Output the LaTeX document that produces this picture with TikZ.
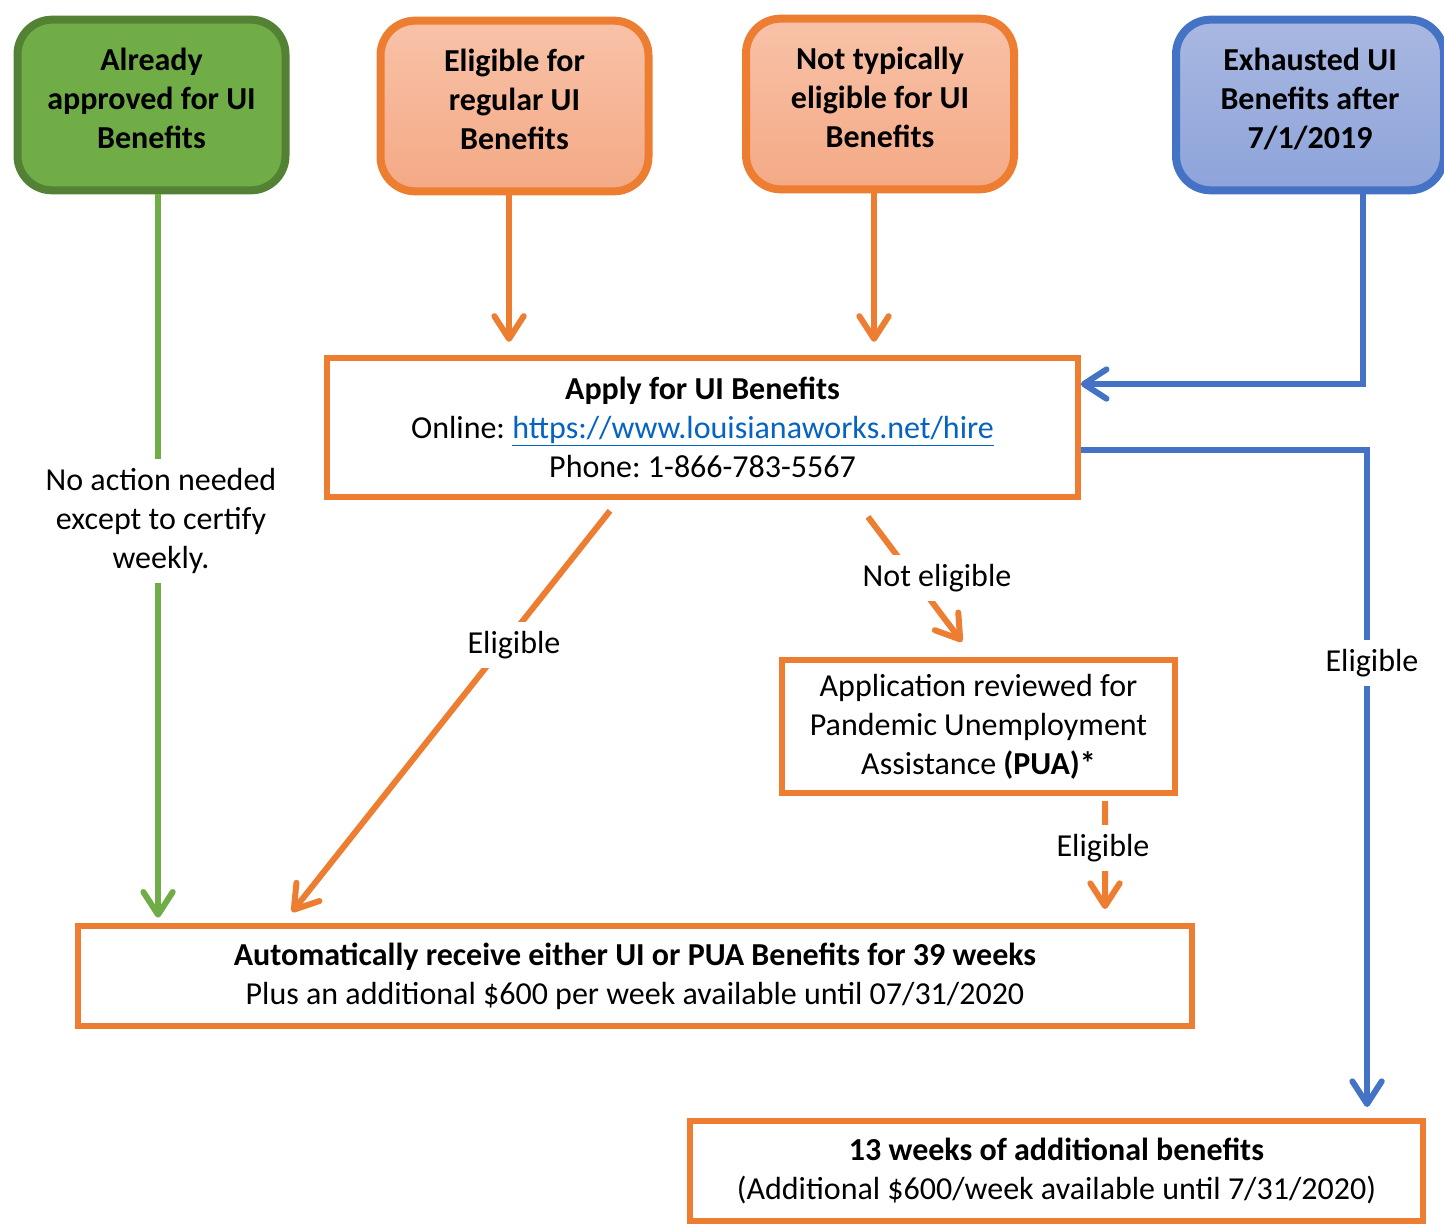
\documentclass[tikz,border=0pt]{standalone}
\usepackage{fontspec}
\setmainfont{Carlito}
\frenchspacing
\usetikzlibrary{arrows.meta}
\definecolor{uiorange}{HTML}{ED7D31}
\definecolor{uigreen}{HTML}{70AD47}
\definecolor{uidkgreen}{HTML}{548235}
\definecolor{uiblue}{HTML}{4472C4}
\definecolor{salmontop}{HTML}{F8C2A8}
\definecolor{salmonbot}{HTML}{F4A985}
\definecolor{bluetop}{HTML}{A9B8E1}
\definecolor{bluebot}{HTML}{8DA3DA}
\definecolor{uilink}{HTML}{0563C1}
\begin{document}
\begin{tikzpicture}
  [x=0.75pt,y=-0.75pt,
   every node/.style={align=center,font=\fontsize{24}{29.25}\selectfont},
   topbox/.style={rounded corners=26pt,line width=6pt,minimum width=201pt,minimum height=128pt,
     font=\fontsize{24}{29.25}\selectfont\bfseries},
   greenbox/.style={topbox,draw=uidkgreen,fill=uigreen},
   orangebox/.style={topbox,draw=uiorange,top color=salmontop,bottom color=salmonbot},
   bluebox/.style={topbox,draw=uiblue,top color=bluetop,bottom color=bluebot},
   stepbox/.style={draw=uiorange,line width=4.5pt,fill=white},
   link/.style={line width=4.5pt,-{Straight Barb[length=17pt,width=22pt,round]}},
   lbl/.style={fill=white,inner sep=7pt}]
  \useasboundingbox (0,0) rectangle (1444,1224);

  % top row, text a bit above the middle
  \node[greenbox] (already) at (151.5,105) {Already\\approved for UI\\Benefits\\[-19pt]\mbox{}};
  \node[orangebox] (regular) at (514.5,106) {Eligible for\\regular UI\\Benefits\\[-19pt]\mbox{}};
  \node[orangebox] (nottypical) at (880,104) {Not typically\\eligible for UI\\Benefits\\[-19pt]\mbox{}};
  \node[bluebox] (exhausted) at (1310,105) {Exhausted UI\\Benefits after\\7/1/2019\\[-19pt]\mbox{}};

  \node[stepbox,minimum width=563pt,minimum height=104pt] (apply) at (702.5,427.5)
    {\textbf{Apply for UI Benefits}\\Online: {\color{uilink}\underline{https://www.louisianaworks.net/hire}}\\Phone: 1-866-783-5567};
  \node[stepbox,minimum width=295pt,minimum height=100pt] (pua) at (978.5,726.5)
    {Application reviewed for\\Pandemic Unemployment\\Assistance \textbf{(PUA)*}};
  \node[stepbox,minimum width=835.5pt,minimum height=75pt] (auto) at (635,976)
    {\textbf{Automatically receive either UI or PUA Benefits for 39 weeks}\\Plus an additional \$600 per week available until 07/31/2020};
  \node[stepbox,minimum width=550pt,minimum height=75pt] (extra) at (1056.5,1171)
    {\textbf{13 weeks of additional benefits}\\(Additional \$600/week available until 7/31/2020)};

  \coordinate (gtop) at ([xshift=4.9pt]already.south);
  \coordinate (rtop) at ([xshift=-4.1pt]regular.south);
  \coordinate (ntop) at ([xshift=-4.5pt]nottypical.south);
  \coordinate (btop) at ([xshift=39.75pt]exhausted.south);

  \draw[link,uigreen,shorten >=4pt] (gtop) -- (gtop |- auto.north);
  \draw[link,uiorange,shorten >=10pt] (rtop) -- (rtop |- apply.north);
  \draw[link,uiorange,shorten >=10pt] (ntop) -- (ntop |- apply.north);
  \draw[link,uiblue] (btop) |- ([yshift=32.6pt]apply.east);
  \draw[link,uiblue] ([yshift=-16.9pt]apply.east) -| ([xshift=232.9pt,yshift=8.25pt]extra.north);
  \draw[link,uiorange] ([xshift=-69.4pt,yshift=-8.25pt]apply.south) -- ([xshift=-257.25pt,yshift=8.25pt]auto.north);
  \draw[link,uiorange] ([xshift=124.1pt,yshift=-12.75pt]apply.south) -- ([xshift=-12.4pt,yshift=11.25pt]pua.north);
  \draw[link,uiorange] ([xshift=94.9pt,yshift=-3.75pt]pua.south) -- ([xshift=352.5pt,yshift=10.5pt]auto.north);

  \node[lbl] (noaction) at (161,521) {No action needed\\except to certify\\weekly.};
  \node[lbl] (elig1) at (514,645) {Eligible};
  \node[lbl] (noteligible) at (937,578) {Not eligible};
  \node[lbl] (elig2) at (1103,848) {Eligible};
  \node[lbl] (elig3) at (1372,663) {Eligible};

\end{tikzpicture}
\end{document}
